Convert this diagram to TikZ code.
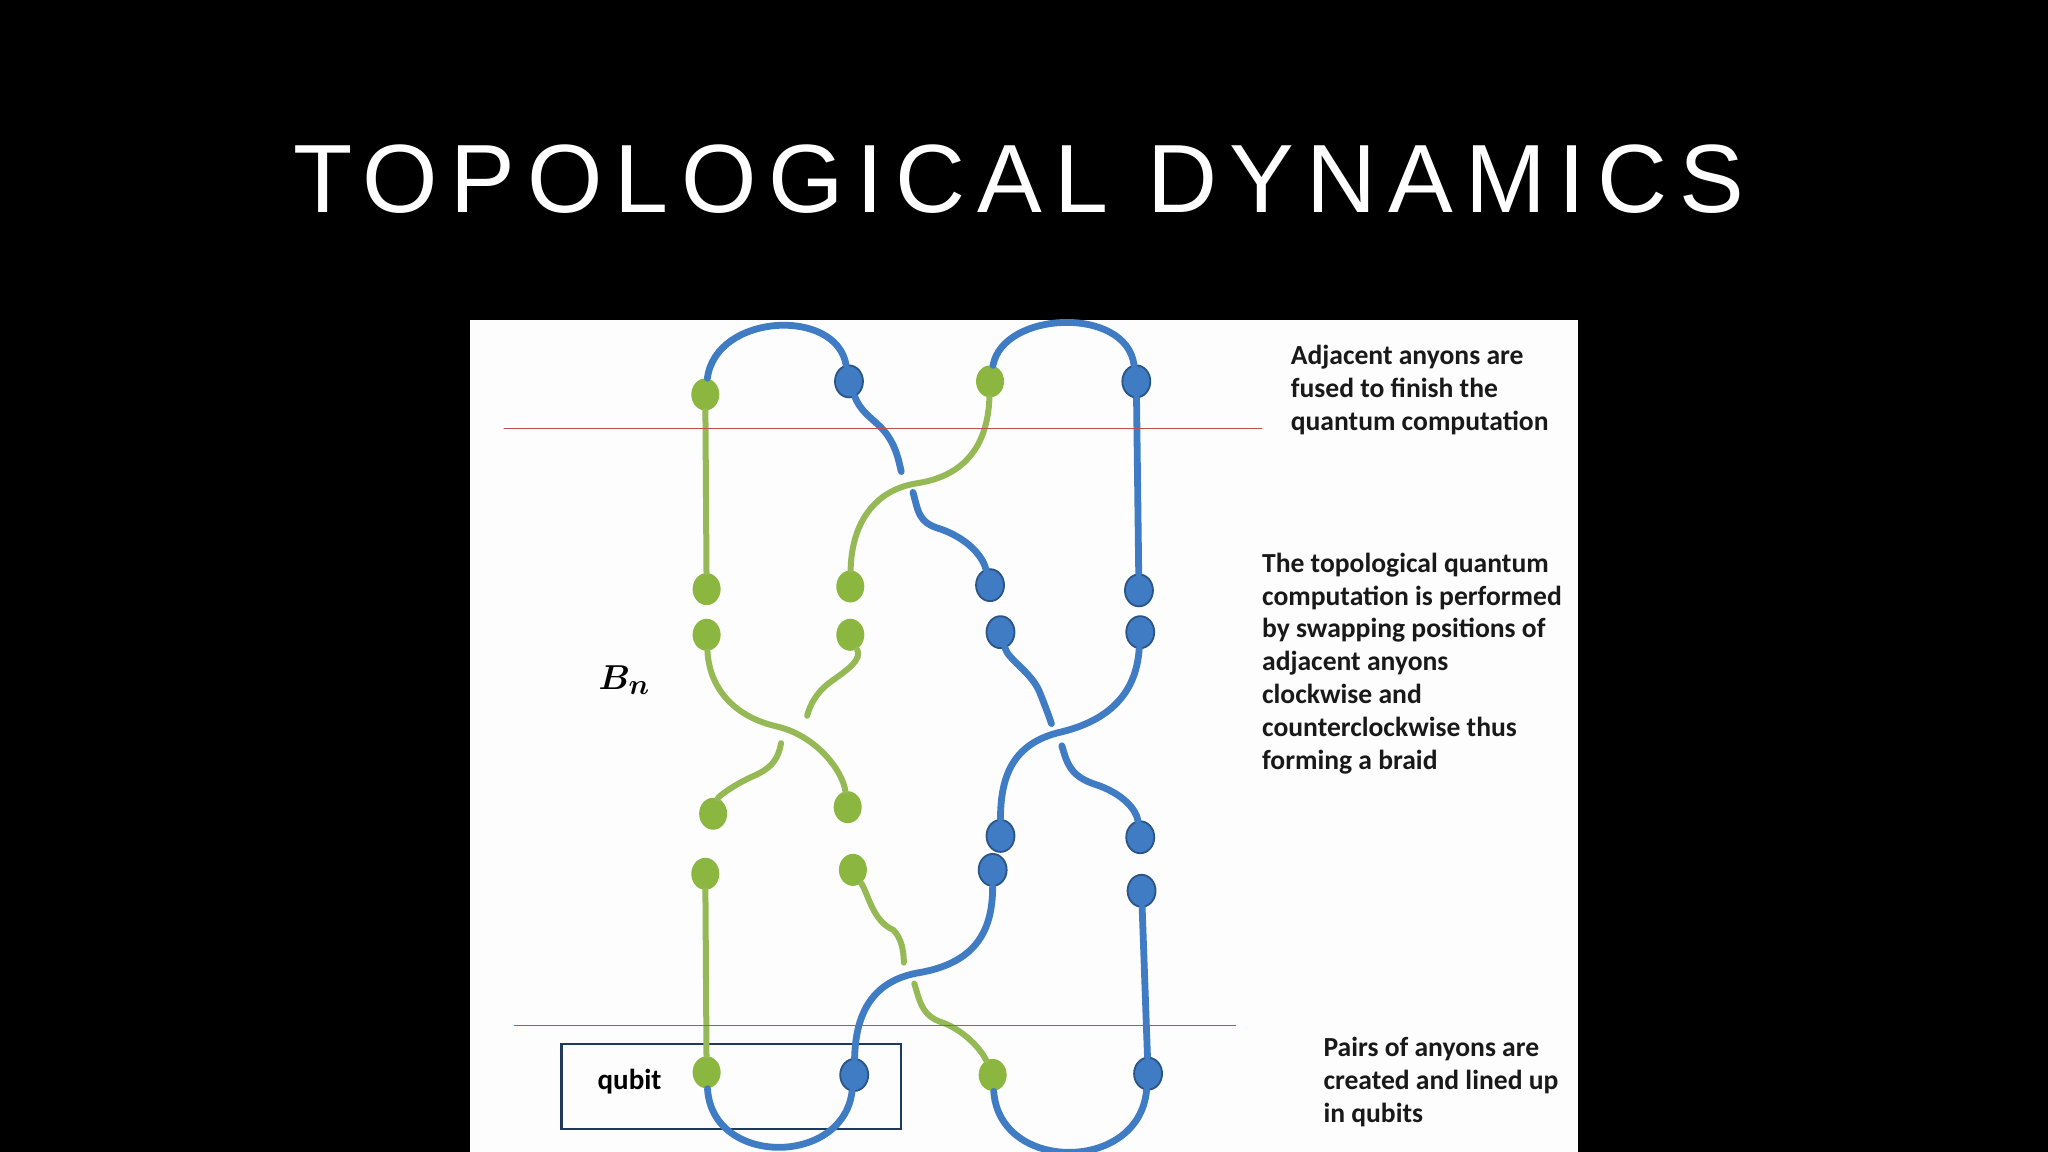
\documentclass[tikz,border=0pt]{standalone}
\usepackage{fontspec}
\usepackage{bm}
\setmainfont{Carlito}
\newfontfamily\titlefont[LetterSpace=12.5]{Liberation Sans}
\usetikzlibrary{shapes.geometric}
\definecolor{BraidGreen}{HTML}{95B955}
\definecolor{BraidGreenDot}{HTML}{8BB63F}
\definecolor{BraidBlue}{HTML}{3F7CC4}
\definecolor{BraidBlueDark}{HTML}{2B5487}
\definecolor{BraidRed}{HTML}{C0504D}
\definecolor{BraidNavy}{HTML}{1F3A5C}
\definecolor{PanelWhite}{HTML}{FDFDFD}

\begin{document}
\begin{tikzpicture}[x=0.6531pt, y=-0.6531pt, line cap=round,
    greendot/.style={ellipse, fill=BraidGreenDot, inner sep=0pt, minimum width=14pt, minimum height=16pt},
    bluedot/.style={ellipse, fill=BraidBlue, draw=BraidBlueDark, line width=0.9pt, inner sep=0pt, minimum width=14pt, minimum height=16pt},
    greenstrand/.style={draw=BraidGreen, line width=3pt},
    bluestrand/.style={draw=BraidBlue, line width=3.4pt},
    levelline/.style={draw=BraidRed, line width=0.7pt},
    notetext/.style={font=\fontsize{13.8pt}{16.4pt}\selectfont\bfseries, align=left, anchor=north west, inner sep=0pt, text=black!90}]
        \useasboundingbox (0,0) rectangle (1568,882);
        \fill[black] (0,0) rectangle (1568,882);
        \fill[PanelWhite] (360,245) rectangle (1208,882);
        \node[font=\titlefont\fontsize{48.5pt}{58pt}\selectfont, text=white, anchor=base] (title) at (780,163) {TOPOLOGICAL DYNAMICS};

        % qubit box
        \node[draw=BraidNavy, line width=1.2pt, minimum width=169.8pt, minimum height=42.5pt, inner sep=0pt] (qubitbox) at (560,832) {};
        \node[font=\fontsize{14.5pt}{17pt}\selectfont\bfseries] (qubit) at (482,828) {qubit};
        \node[font=\fontsize{19pt}{22pt}\selectfont\boldmath] (bn) at (478,521) {$B_n$};

        % anyons, row by row
        \node[greendot] (a1) at (540,302) {};
        \node[bluedot]  (a2) at (650,292) {};
        \node[greendot] (a3) at (758,292) {};
        \node[bluedot]  (a4) at (870,292) {};
        \node[greendot] (b1) at (541,451) {};
        \node[greendot] (b2) at (651,449) {};
        \node[bluedot]  (b3) at (758,448) {};
        \node[bluedot]  (b4) at (872,452) {};
        \node[greendot] (c1) at (541,486) {};
        \node[greendot] (c2) at (651,486) {};
        \node[bluedot]  (c3) at (766,484) {};
        \node[bluedot]  (c4) at (873,484) {};
        \node[greendot] (d1) at (546,623) {};
        \node[greendot] (d2) at (649,618) {};
        \node[bluedot]  (d3) at (766,640) {};
        \node[bluedot]  (d4) at (873,641) {};
        \node[greendot] (e1) at (540,669) {};
        \node[greendot] (e2) at (653,666) {};
        \node[bluedot]  (e3) at (760,666) {};
        \node[bluedot]  (e4) at (874,682) {};
        \node[greendot] (f1) at (541,821) {};
        \node[bluedot]  (f2) at (654,823) {};
        \node[greendot] (f3) at (760,823) {};
        \node[bluedot]  (f4) at (879,822) {};

        % ends of the strands that pass under
        \coordinate (ua1) at (690,361);
        \coordinate (ua2) at (699,377);
        \coordinate (uc1) at (618,548);
        \coordinate (uc2) at (598,569);
        \coordinate (ud1) at (805,554);
        \coordinate (ud2) at (813,571);
        \coordinate (ue1) at (692,737);
        \coordinate (ue2) at (700,753);

        % fusion (top) and creation (bottom)
        \draw[bluestrand] (a1) .. controls (548,240) and (640,235) .. (a2);
        \draw[bluestrand] (a3) .. controls (768,238) and (862,234) .. (a4);
        \draw[bluestrand] (f1) .. controls (545,893) and (645,893) .. (f2);
        \draw[bluestrand] (f3) .. controls (765,898) and (872,898) .. (f4);

        \draw[greenstrand] (a1) -- (b1);
        \draw[bluestrand] (a4) -- (b4);
        \draw[greenstrand] (e1) -- (f1);
        \draw[bluestrand] (e4) -- (f4);

        % braiding
        \draw[bluestrand] (a2) .. controls (660,318) and (672,322) .. (680,334) .. controls (686,343) and (688,352) .. (ua1);
        \draw[bluestrand] (ua2) .. controls (703,390) and (702,400) .. (720,405) .. controls (740,412) and (752,425) .. (b3);
        \draw[greenstrand] (a3) .. controls (756,345) and (735,365) .. (702,370) .. controls (670,375) and (652,400) .. (b2);

        \draw[greenstrand] (c2) .. controls (660,505) and (650,512) .. (636,522) .. controls (625,530) and (620,540) .. (uc1);
        \draw[greenstrand] (uc2) .. controls (596,580) and (592,588) .. (575,595) .. controls (560,602) and (550,610) .. (d1);
        \draw[greenstrand] (c1) .. controls (543,525) and (560,548) .. (594,556) .. controls (625,563) and (645,590) .. (d2);

        \draw[bluestrand] (c3) .. controls (772,505) and (790,515) .. (796,530) .. controls (800,540) and (803,548) .. (ud1);
        \draw[bluestrand] (ud2) .. controls (817,585) and (820,595) .. (840,601) .. controls (860,608) and (870,620) .. (d4);
        \draw[bluestrand] (c4) .. controls (870,530) and (850,552) .. (810,561) .. controls (775,570) and (766,595) .. (d3);

        \draw[greenstrand] (e2) .. controls (665,685) and (668,705) .. (684,712) .. controls (690,718) and (692,728) .. (ue1);
        \draw[greenstrand] (ue2) .. controls (704,765) and (705,778) .. (722,783) .. controls (740,790) and (752,805) .. (f3);
        \draw[bluestrand] (e3) .. controls (760,715) and (745,738) .. (702,745) .. controls (665,752) and (655,780) .. (f2);

        % time slices
        \coordinate (topl) at (386,328);
        \coordinate (topr) at (966,328);
        \coordinate (botl) at (394,785);
        \coordinate (botr) at (946,785);
        \draw[levelline] (topl) -- (topr);
        \draw[levelline] (botl) -- (botr);

        \node[notetext] (fuse) at (988,264) {Adjacent anyons are\\fused to finish the\\quantum computation};
        \node[notetext] (braid) at (966,423) {The topological quantum\\computation is performed\\by swapping positions of\\adjacent anyons\\clockwise and\\counterclockwise thus\\forming a braid};
        \node[notetext] (create) at (1013,794) {Pairs of anyons are\\created and lined up\\in qubits};
      \end{tikzpicture}
\end{document}
